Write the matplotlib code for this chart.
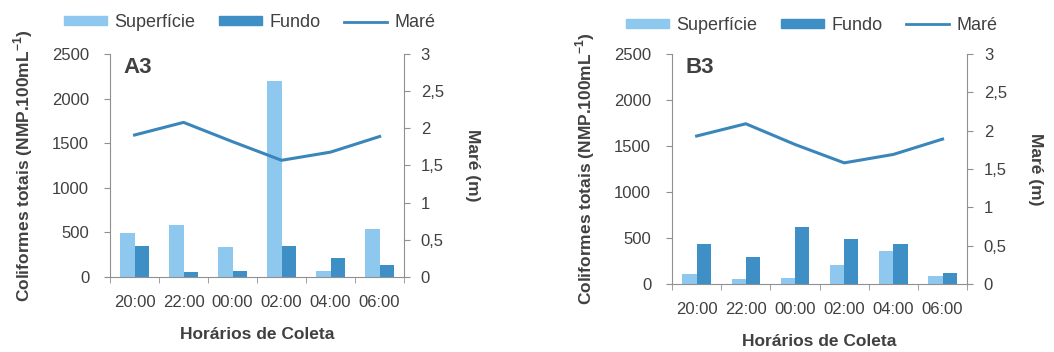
import matplotlib.pyplot as plt
import numpy as np
from matplotlib.lines import Line2D
from matplotlib.patches import Patch

plt.rcParams['font.family'] = ['Liberation Sans', 'DejaVu Sans']

horarios = ['20:00', '22:00', '00:00', '02:00', '04:00', '06:00']

# coliformes totais (NMP/100mL)
sup_a3 = [490, 580, 340, 2200, 65, 535]
fundo_a3 = [345, 60, 65, 350, 210, 135]
sup_b3 = [110, 50, 70, 205, 360, 85]
fundo_b3 = [430, 290, 620, 490, 435, 120]

# maré (m)
mare_a3 = [1.91, 2.08, 1.82, 1.57, 1.68, 1.89]
mare_b3 = [1.93, 2.09, 1.82, 1.58, 1.69, 1.89]

c_sup = '#8ec8ee'
c_fundo = '#3d8fc6'
c_mare = '#3a86ba'
c_txt = '#404040'
c_axis = '#909090'


def painel(rect, titulo, sup, fundo, mare, leg_x, leg_y):
    ax = fig.add_axes(rect)
    x = np.arange(len(horarios))
    w = 0.29
    ax.bar(x - w / 2, sup, w, color=c_sup)
    ax.bar(x + w / 2, fundo, w, color=c_fundo)
    ax.set_xlim(-0.5, len(horarios) - 0.5)
    ax.set_ylim(0, 2500)
    ax.set_yticks([0, 500, 1000, 1500, 2000, 2500])
    ax.set_xticks(x)
    ax.set_xticklabels(horarios)
    ax.set_xticks(np.arange(-0.5, len(horarios)), minor=True)
    ax.tick_params(axis='x', which='major', length=0, pad=13, labelsize=12,
                   labelcolor=c_txt)
    ax.tick_params(axis='x', which='minor', length=4, color=c_axis)
    ax.tick_params(axis='y', length=4, color=c_axis, labelsize=12,
                   labelcolor=c_txt, pad=11)
    ax.spines['top'].set_visible(False)
    ax.spines['right'].set_visible(False)
    for s in ['left', 'bottom']:
        ax.spines[s].set_color(c_axis)
    ax.set_ylabel('Coliformes totais (NMP.100mL$^{\\mathregular{-1}}$)',
                  fontsize=12.5, fontweight='bold', color=c_txt, labelpad=12)
    ax.set_xlabel('Horários de Coleta', fontsize=12.5, fontweight='bold',
                  color=c_txt, labelpad=12)
    ax.text(0.045, 0.985, titulo, transform=ax.transAxes, fontsize=16,
            fontweight='bold', color=c_txt, va='top', ha='left')

    ax2 = ax.twinx()
    ax2.plot(x, mare, color=c_mare, lw=2.2)
    ax2.set_ylim(0, 3)
    ax2.set_yticks([0, 0.5, 1, 1.5, 2, 2.5, 3])
    ax2.set_yticklabels(['0', '0,5', '1', '1,5', '2', '2,5', '3'])
    ax2.tick_params(axis='y', length=4, color=c_axis, labelsize=12,
                    labelcolor=c_txt, pad=8)
    ax2.spines['top'].set_visible(False)
    ax2.spines['left'].set_visible(False)
    ax2.spines['bottom'].set_visible(False)
    ax2.spines['right'].set_color(c_axis)
    ax2.set_ylabel('Maré (m)', fontsize=12.5, fontweight='bold', color=c_txt,
                   rotation=270, labelpad=26)

    handles = [Patch(color=c_sup, label='Superfície'),
               Patch(color=c_fundo, label='Fundo'),
               Line2D([], [], color=c_mare, lw=2, label='Maré')]
    fig.legend(handles=handles, loc='center', bbox_to_anchor=(leg_x, leg_y),
               ncol=3, frameon=False, fontsize=13, handlelength=2.4,
               handleheight=0.4, handletextpad=0.4, columnspacing=1.3,
               labelcolor=c_txt)


fig = plt.figure(figsize=(10.54, 3.52), dpi=100)
painel([0.1044, 0.2131, 0.279, 0.6335], 'A3', sup_a3, fundo_a3, mare_a3,
       0.237, 0.936)
painel([0.6376, 0.1932, 0.280, 0.6534], 'B3', sup_b3, fundo_b3, mare_b3,
       0.770, 0.928)
fig.savefig('out.png', dpi=100)
